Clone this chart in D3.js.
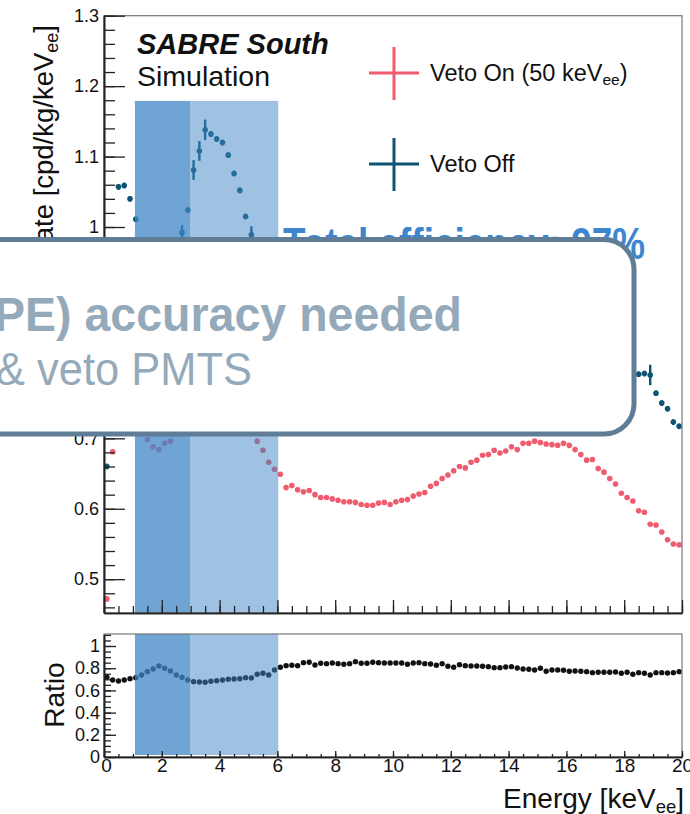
<!DOCTYPE html>
<html>
<head>
<meta charset="utf-8">
<script src="https://cdn.jsdelivr.net/npm/d3@7"></script>
<style>
  html, body { margin: 0; padding: 0; background: #fff; }
  svg { display: block; }
  text { font-family: "Liberation Sans", Arial, Helvetica, sans-serif; }
</style>
</head>
<body>
<svg id="chart" width="690" height="814"></svg>
<script>
// ---------------- DATA ----------------
// 100 energy bins of 0.2 keV from 0 to 20 keVee (bin centres)
const binCenters = d3.range(100).map(i => +(0.1 + 0.2 * i).toFixed(1));

// Veto On (50 keVee) rate [cpd/kg/keVee]; null = hidden behind the overlay box
const vetoOn = [
  0.472, 0.681, null, null, null, null, null, 0.698, 0.688, 0.684,
  0.693, 0.696, null, null, null, null, null, null, null, null,
  null, null, null, null, null, null, 0.696, 0.683, 0.666, 0.656,
  0.649, 0.630, 0.633, 0.627, 0.624, 0.626, 0.620, 0.616, 0.616, 0.614,
  0.612, 0.610, 0.610, 0.609, 0.606, 0.605, 0.605, 0.608, 0.609, 0.606,
  0.610, 0.612, 0.613, 0.618, 0.621, 0.623, 0.632, 0.636, 0.643, 0.648,
  0.654, 0.660, 0.658, 0.666, 0.669, 0.676, 0.677, 0.683, 0.679, 0.682,
  0.688, 0.684, 0.693, 0.693, 0.696, 0.694, 0.692, 0.691, 0.690, 0.693,
  0.690, 0.684, 0.677, 0.669, 0.670, 0.657, 0.652, 0.643, 0.635, 0.622,
  0.616, 0.611, 0.597, 0.595, 0.578, 0.577, 0.567, 0.556, 0.550, 0.549
];

// Veto Off rate [cpd/kg/keVee]; null = hidden behind the overlay box
const vetoOff = [
  0.660, null, 1.057, 1.059, 1.040, 1.011, null, null, null, null,
  null, null, null, 0.992, 1.024, 1.081, 1.108, 1.138, 1.132, 1.125,
  1.120, 1.102, 1.076, 1.052, 1.015, 0.989, null, null, null, null,
  null, null, null, null, null, null, null, null, null, null,
  null, null, null, null, null, null, null, null, null, null,
  null, null, null, null, null, null, null, null, null, null,
  null, null, null, null, null, null, null, null, null, null,
  null, null, null, null, null, null, null, null, null, null,
  null, null, null, null, null, null, null, null, null, null,
  null, null, 0.791, 0.792, 0.790, 0.764, 0.750, 0.742, 0.723, 0.717
];

// Veto Off statistical errors (only the visible ones larger than the marker)
const vetoOffErr = [
  0.004, 0.004, 0.004, 0.004, 0.004, 0.004, 0.004, 0.004, 0.004, 0.004,
  0.004, 0.004, 0.004, 0.011, 0.004, 0.014, 0.014, 0.0145, 0.004, 0.004,
  0.004, 0.004, 0.004, 0.004, 0.004, 0.012, 0.004, 0.004, 0.004, 0.004,
  0.004, 0.004, 0.004, 0.004, 0.004, 0.004, 0.004, 0.004, 0.004, 0.004,
  0.004, 0.004, 0.004, 0.004, 0.004, 0.004, 0.004, 0.004, 0.004, 0.004,
  0.004, 0.004, 0.004, 0.004, 0.004, 0.004, 0.004, 0.004, 0.004, 0.004,
  0.004, 0.004, 0.004, 0.004, 0.004, 0.004, 0.004, 0.004, 0.004, 0.004,
  0.004, 0.004, 0.004, 0.004, 0.004, 0.004, 0.004, 0.004, 0.004, 0.004,
  0.004, 0.004, 0.004, 0.004, 0.004, 0.004, 0.004, 0.004, 0.004, 0.004,
  0.004, 0.004, 0.004, 0.004, 0.0145, 0.004, 0.004, 0.004, 0.004, 0.004
];

// Ratio Veto On / Veto Off
const ratio = [
  0.718, 0.694, 0.685, 0.694, 0.706, 0.715, 0.739, 0.769, 0.793, 0.820,
  0.799, 0.775, 0.739, 0.718, 0.694, 0.679, 0.676, 0.673, 0.682, 0.688,
  0.694, 0.700, 0.703, 0.706, 0.715, 0.712, 0.745, 0.754, 0.739, 0.784,
  0.808, 0.823, 0.826, 0.823, 0.850, 0.853, 0.829, 0.844, 0.841, 0.847,
  0.841, 0.835, 0.841, 0.859, 0.844, 0.844, 0.853, 0.850, 0.847, 0.847,
  0.847, 0.847, 0.835, 0.847, 0.850, 0.841, 0.838, 0.826, 0.841, 0.817,
  0.808, 0.832, 0.823, 0.820, 0.820, 0.817, 0.814, 0.805, 0.805, 0.811,
  0.814, 0.802, 0.793, 0.790, 0.784, 0.799, 0.772, 0.784, 0.784, 0.781,
  0.772, 0.775, 0.772, 0.769, 0.760, 0.763, 0.763, 0.763, 0.766, 0.754,
  0.763, 0.745, 0.760, 0.754, 0.739, 0.760, 0.760, 0.757, 0.760, 0.769
];

// Highlighted energy regions [keVee]
const darkBand = [1.07, 2.98];
const lightBand = [2.98, 6.03];
const bandTopValue = 1.179;

// Axis ticks
const xMajorTicks = d3.range(0, 20.01, 2);
const xMinorTicks = d3.range(0, 20.01, 0.5);
const yTopMajorTicks = [0.5, 0.6, 0.7, 0.8, 0.9, 1.0, 1.1, 1.2, 1.3];
const yTopHiddenLabels = [0.8, 0.9];   // covered by the overlay box in the reference
const yTopMinorTicks = d3.range(0.46, 1.301, 0.02);
const yRatioMajorTicks = [0, 0.2, 0.4, 0.6, 0.8, 1.0];
const yRatioMinorTicks = d3.range(0, 1.101, 0.05);

// Legend
const legendLabels = ["Veto On (50 keV", "Veto Off"];

// ---------------- LAYOUT ----------------
const svg = d3.select("#chart");
const colOn = "#ef5b6f", colOff = "#0d5474", colRatio = "#111111";
const bandColor = "64,134,198";

const x = d3.scaleLinear().domain([0, 20]).range([104, 682]);
const yTop = d3.scaleLinear().domain([0.452, 1.3]).range([613, 15.7]);
const yRat = d3.scaleLinear().domain([0, 1.1]).range([757, 634.9]);

// ---------- TOP PANEL ----------
const gTop = svg.append("g");
const onData = binCenters.map((e, i) => ({e, v: vetoOn[i]})).filter(d => d.v !== null);
const offData = binCenters.map((e, i) => ({e, v: vetoOff[i], err: vetoOffErr[i]})).filter(d => d.v !== null);

gTop.selectAll("circle.on").data(onData).enter().append("circle")
  .attr("cx", d => x(d.e)).attr("cy", d => yTop(d.v)).attr("r", 2.8).attr("fill", colOn);

gTop.selectAll("line.offerr").data(offData).enter().append("line")
  .attr("x1", d => x(d.e)).attr("x2", d => x(d.e))
  .attr("y1", d => yTop(d.v - d.err)).attr("y2", d => yTop(d.v + d.err))
  .attr("stroke", colOff).attr("stroke-width", 2.4);
gTop.selectAll("circle.off").data(offData).enter().append("circle")
  .attr("cx", d => x(d.e)).attr("cy", d => yTop(d.v)).attr("r", 2.8).attr("fill", colOff);

// bands (semi-transparent, drawn over the points)
gTop.append("rect").attr("x", x(darkBand[0])).attr("width", x(darkBand[1]) - x(darkBand[0]))
  .attr("y", yTop(bandTopValue)).attr("height", 613 - yTop(bandTopValue))
  .attr("fill", `rgba(${bandColor},0.75)`);
gTop.append("rect").attr("x", x(lightBand[0])).attr("width", x(lightBand[1]) - x(lightBand[0]))
  .attr("y", yTop(bandTopValue)).attr("height", 613 - yTop(bandTopValue))
  .attr("fill", `rgba(${bandColor},0.5)`);

// frame
svg.append("rect").attr("x", 104).attr("y", 15.7).attr("width", 578).attr("height", 613 - 15.7)
  .attr("fill", "none").attr("stroke", "#777").attr("stroke-width", 1.2);

function styleAxis(g) {
  g.select(".domain").attr("stroke", "#222").attr("stroke-width", 1.6);
  g.selectAll(".tick line").attr("stroke", "#222").attr("stroke-width", 1.3);
  g.selectAll("text").attr("font-size", 18).attr("fill", "#111")
    .attr("font-family", "'Liberation Sans', Arial, sans-serif");
}
const fmt = d => d === 1 ? "1" : (d === 0 ? "0" : d3.format(".1f")(d));
const fmtTop = d => yTopHiddenLabels.includes(d) ? "" : fmt(d);

// top y axis
svg.append("g").attr("transform", "translate(104,0)")
  .call(d3.axisLeft(yTop).tickValues(yTopMinorTicks).tickSize(-11).tickFormat("").tickSizeOuter(0))
  .call(styleAxis);
svg.append("g").attr("transform", "translate(104,0)")
  .call(d3.axisLeft(yTop).tickValues(yTopMajorTicks).tickSize(-21).tickPadding(5).tickFormat(fmtTop).tickSizeOuter(0))
  .call(styleAxis);
// top x axis (no labels)
svg.append("g").attr("transform", "translate(0,613)")
  .call(d3.axisBottom(x).tickValues(xMinorTicks).tickSize(-7).tickFormat("").tickSizeOuter(0))
  .call(styleAxis);
svg.append("g").attr("transform", "translate(0,613)")
  .call(d3.axisBottom(x).tickValues(xMajorTicks).tickSize(-13).tickFormat("").tickSizeOuter(0))
  .call(styleAxis);

// titles in top panel
svg.append("text").attr("x", 137).attr("y", 54).attr("font-size", 29).attr("font-weight", "bold")
  .attr("font-style", "italic").attr("fill", "#111").text("SABRE South");
svg.append("text").attr("x", 137).attr("y", 86).attr("font-size", 28.5).attr("fill", "#111").text("Simulation");

// legend
const legY = [73, 164];
const legCols = [colOn, colOff];
legY.forEach((ly, i) => {
  svg.append("line").attr("x1", 369).attr("x2", 419).attr("y1", ly).attr("y2", ly)
    .attr("stroke", legCols[i]).attr("stroke-width", 3);
  svg.append("line").attr("x1", 394).attr("x2", 394).attr("y1", ly - 26).attr("y2", ly + 27)
    .attr("stroke", legCols[i]).attr("stroke-width", 3);
});
const l1 = svg.append("text").attr("x", 430).attr("y", 81).attr("font-size", 23.5).attr("fill", "#111");
l1.append("tspan").text(legendLabels[0]);
l1.append("tspan").attr("font-size", 15.5).attr("dy", 4).text("ee");
l1.append("tspan").attr("dy", -4).text(")");
svg.append("text").attr("x", 430).attr("y", 172).attr("font-size", 23.5).attr("fill", "#111").text(legendLabels[1]);

// y title
const yt = svg.append("text").attr("transform", "translate(53,25) rotate(-90)")
  .attr("text-anchor", "end").attr("font-size", 27.5).attr("fill", "#111");
yt.append("tspan").text("Rate [cpd/kg/keV");
yt.append("tspan").attr("font-size", 18).attr("dy", 5).text("ee");
yt.append("tspan").attr("dy", -5).text("]");

// ---------- RATIO PANEL ----------
const ratData = binCenters.map((e, i) => ({e, v: ratio[i]}));
svg.selectAll("circle.rat").data(ratData).enter().append("circle")
  .attr("cx", d => x(d.e)).attr("cy", d => yRat(d.v)).attr("r", 2.7).attr("fill", colRatio);

svg.append("rect").attr("x", x(darkBand[0])).attr("width", x(darkBand[1]) - x(darkBand[0]))
  .attr("y", 634).attr("height", 121).attr("fill", `rgba(${bandColor},0.75)`);
svg.append("rect").attr("x", x(lightBand[0])).attr("width", x(lightBand[1]) - x(lightBand[0]))
  .attr("y", 634).attr("height", 121).attr("fill", `rgba(${bandColor},0.5)`);

svg.append("rect").attr("x", 104).attr("y", 634).attr("width", 578).attr("height", 123)
  .attr("fill", "none").attr("stroke", "#777").attr("stroke-width", 1.2);

svg.append("g").attr("transform", "translate(104,0)")
  .call(d3.axisLeft(yRat).tickValues(yRatioMinorTicks).tickSize(-7).tickFormat("").tickSizeOuter(0))
  .call(styleAxis);
svg.append("g").attr("transform", "translate(104,0)")
  .call(d3.axisLeft(yRat).tickValues(yRatioMajorTicks).tickSize(-12).tickPadding(4).tickFormat(fmt).tickSizeOuter(0))
  .call(styleAxis);
svg.append("g").attr("transform", "translate(0,757)")
  .call(d3.axisBottom(x).tickValues(xMinorTicks).tickSize(-3).tickFormat("").tickSizeOuter(0))
  .call(styleAxis);
const xa = svg.append("g").attr("transform", "translate(0,757)")
  .call(d3.axisBottom(x).tickValues(xMajorTicks).tickSize(-6).tickFormat(d3.format("d")).tickSizeOuter(0))
  .call(styleAxis);
xa.selectAll("text").attr("y", 15).attr("dy", 0).attr("font-size", 19);
xa.selectAll(".tick").filter(d => d === 0).select("text").attr("x", 2);

svg.append("text").attr("transform", "translate(64,695) rotate(-90)").attr("text-anchor", "middle")
  .attr("font-size", 28).attr("fill", "#111").text("Ratio");

const xt = svg.append("text").attr("x", 684).attr("y", 808).attr("text-anchor", "end")
  .attr("font-size", 28).attr("fill", "#111");
xt.append("tspan").text("Energy [keV");
xt.append("tspan").attr("font-size", 18.5).attr("dy", 5).text("ee");
xt.append("tspan").attr("dy", -5).text("]");

// ---------- OVERLAY ----------
const narrow = "'Liberation Sans Narrow','Arial Narrow','Liberation Sans',Arial,sans-serif";
svg.append("text").attr("x", 283).attr("y", 259).attr("font-size", 44).attr("font-weight", "bold")
  .attr("font-family", narrow).attr("fill", "#3d86cf")
  .attr("textLength", 362).attr("lengthAdjust", "spacingAndGlyphs")
  .text("Total efficiency: 97%");

svg.append("rect").attr("x", -40).attr("y", 239.5).attr("width", 674).attr("height", 194.5)
  .attr("rx", 30).attr("ry", 30).attr("fill", "#fff").attr("stroke", "#5f7d96").attr("stroke-width", 5);

svg.append("text").attr("x", -6).attr("y", 331).attr("font-size", 49).attr("font-weight", "bold")
  .attr("font-family", narrow).attr("fill", "#94aabb")
  .attr("textLength", 468).attr("lengthAdjust", "spacingAndGlyphs")
  .text("PE) accuracy needed");
svg.append("text").attr("x", -4).attr("y", 385).attr("font-size", 46)
  .attr("font-family", narrow).attr("fill", "#94aabb")
  .attr("textLength", 256).attr("lengthAdjust", "spacingAndGlyphs")
  .text("& veto PMTS");
</script>
</body>
</html>
